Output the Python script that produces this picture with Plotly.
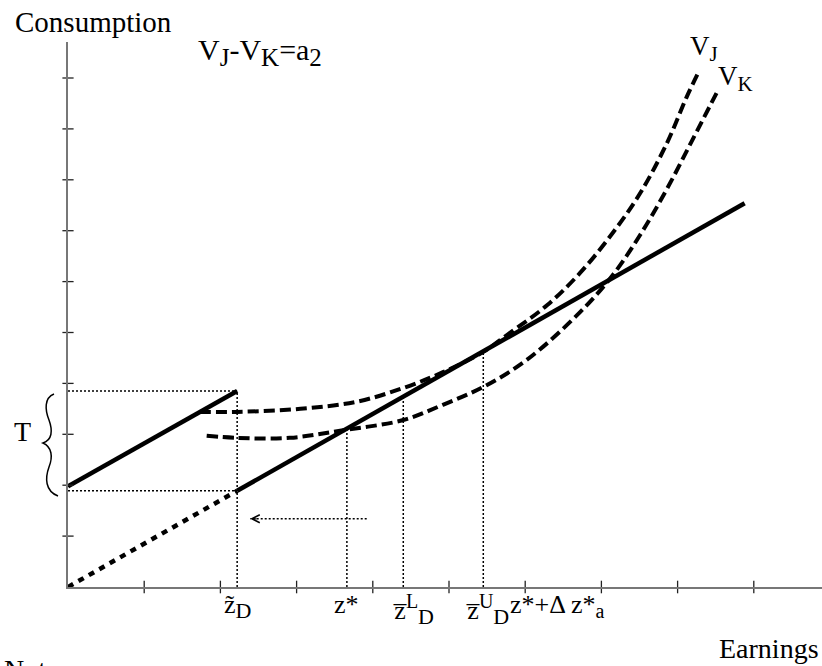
import plotly.graph_objects as go

# ---------------- data (axis units: one unit = one tick step) ----------------
x_ticks = [1, 2, 3, 4, 5, 6, 7, 8, 9]
y_ticks = [1, 2, 3, 4, 5, 6, 7, 8, 9, 10]

z_D = 2.22          # notch point  z~_D
z_star = 3.66       # z*
z_L = 4.40          # z-bar^L_D
z_U = 5.45          # z-bar^U_D
z_delta = 6.43      # z* + Delta z*_a (label position)

# budget line above the notch (before z~_D)
upper_x = [0.0, 2.22]
upper_y = [1.98, 3.85]
# budget line after the notch
lower_x = [2.22, 8.88]
lower_y = [1.89, 7.54]
# extension of lower line to the origin (dotted)
ext_x = [0.0, 2.22]
ext_y = [0.0, 1.89]

# heights where the vertical guides meet the budget line
guide_x = [z_star, z_L, z_U]
guide_top = [3.10, 3.73, 4.62]

# indifference curves
vj_x = [1.73, 2.22, 3.05, 3.79, 4.40, 4.92, 5.45, 5.76, 6.29, 6.72, 7.15, 7.51, 7.86, 8.12, 8.27]
vj_y = [3.44, 3.44, 3.50, 3.64, 3.91, 4.22, 4.62, 4.95, 5.54, 6.17, 6.96, 7.74, 8.72, 9.63, 10.10]
vk_x = [1.82, 2.22, 2.91, 3.61, 4.40, 4.92, 5.45, 6.02, 6.72, 7.15, 7.51, 7.86, 8.20, 8.52]
vk_y = [2.97, 2.93, 2.93, 3.08, 3.28, 3.58, 3.93, 4.46, 5.40, 6.13, 6.92, 7.82, 8.80, 9.73]

# bunching shift arrow
arrow_x = [3.92, 2.39]
arrow_y = 1.34

tick_label_x = [z_D, z_star, z_L, z_U, z_delta]
SUB = '<sub><span style="font-size:{}px">{}</span></sub>'
SUP = '<sup><span style="font-size:{}px">{}</span></sup>'
tick_label_text = ["z\u0303" + SUB.format(22, "D"), "z*",
                   "z\u0305" + SUP.format(20, "L") + SUB.format(22, "D"),
                   "z\u0305" + SUP.format(20, "U") + SUB.format(22, "D"),
                   "z*+\u0394 z*" + SUB.format(20, "a")]

# ---------------- layout geometry ----------------
W, H = 822, 666
L, R, T, B = 68, 0, 42, 79
PW, PH = W - L - R, H - T - B
XU, YU = 76.2, 50.9  # pixels per unit
x_range = [0, PW / XU]
y_range = [0, PH / YU]


def paper_x(px):
    return (px - L) / PW


def paper_y(py):
    return (H - B - py) / PH


FONT = "Liberation Serif, Times New Roman, serif"
BLACK = "#000000"

fig = go.Figure()

# indifference curves
curve_line = dict(color=BLACK, width=4, dash="11px,5px", shape="spline", smoothing=1.0)
fig.add_trace(go.Scatter(x=vj_x, y=vj_y, mode="lines", line=curve_line))
fig.add_trace(go.Scatter(x=vk_x, y=vk_y, mode="lines", line=curve_line))

# dotted guide lines
thin = dict(color=BLACK, width=1.5, dash="2px,2px")
fig.add_trace(go.Scatter(x=[0, z_D], y=[upper_y[1], upper_y[1]], mode="lines", line=thin))
fig.add_trace(go.Scatter(x=[0, z_D], y=[lower_y[0], lower_y[0]], mode="lines", line=thin))
fig.add_trace(go.Scatter(x=[z_D, z_D], y=[0, upper_y[1]], mode="lines", line=thin))
for gx, gt in zip(guide_x, guide_top):
    fig.add_trace(go.Scatter(x=[gx, gx], y=[0, gt], mode="lines", line=thin))

# arrow shaft
fig.add_trace(go.Scatter(x=arrow_x, y=[arrow_y, arrow_y], mode="lines", line=thin))

# budget lines
fig.add_trace(go.Scatter(x=ext_x, y=ext_y, mode="lines", line=dict(color=BLACK, width=4.5, dash="6px,6px")))
fig.add_trace(go.Scatter(x=upper_x, y=upper_y, mode="lines", line=dict(color=BLACK, width=4.5)))
fig.add_trace(go.Scatter(x=lower_x, y=lower_y, mode="lines", line=dict(color=BLACK, width=4.5)))

# tick marks crossing the axes
fig.add_trace(go.Scatter(x=x_ticks, y=[0] * len(x_ticks), mode="markers", cliponaxis=False,
                         marker=dict(symbol="line-ns", size=9, line=dict(color="#222", width=1.3))))
fig.add_trace(go.Scatter(x=[0] * len(y_ticks), y=y_ticks, mode="markers", cliponaxis=False,
                         marker=dict(symbol="line-ew", size=8, line=dict(color="#222", width=1.3))))

ann = []
# arrow head
ann.append(dict(x=arrow_x[1], y=arrow_y, xref="x", yref="y", text="", showarrow=True,
                ax=8, ay=0, arrowhead=5, arrowsize=1.3, arrowwidth=1.2, arrowcolor=BLACK))


def txt(text, px, py, size, xanchor="left", yanchor="middle"):
    ann.append(dict(x=paper_x(px), y=paper_y(py), xref="paper", yref="paper", text=text,
                    showarrow=False, xanchor=xanchor, yanchor=yanchor,
                    font=dict(family=FONT, size=size, color=BLACK)))


txt("Consumption", 13, 22, 29)
txt("V" + SUB.format(25, "J") + "-V" + SUB.format(25, "K") + "=a" + SUB.format(25, "2"), 196, 52, 30)
txt("V" + SUB.format(21, "J"), 688, 48, 27)
txt("V" + SUB.format(21, "K"), 716, 78, 27)
txt("T", 22, 431, 28, xanchor="center")
txt("Earnings", 717, 648, 28)
txt("Notes:", 2, 669, 28)

# x-axis labels
shifts = [0, 0, -12, -19, 0]
anchors = ["center", "center", "left", "left", "center"]
for xv, t, s, a in zip(tick_label_x, tick_label_text, shifts, anchors):
    ann.append(dict(x=xv, y=paper_y(588), xref="x", yref="paper", text=t, showarrow=False,
                    xanchor=a, yanchor="top", xshift=s,
                    font=dict(family=FONT, size=26, color=BLACK)))

# curly brace for T
pts = "M {} {} C {} {} {} {} {} {} C {} {} {} {} {} {} C {} {} {} {} {} {} C {} {} {} {} {} {}"
brace_px = [(54, 394), (44, 398), (45, 410), (49, 420), (53, 431), (52, 440), (43, 443),
            (52, 447), (53, 457), (49, 467), (45, 478), (45, 491), (58, 496)]
coords = []
for px, py in brace_px:
    coords += [paper_x(px), paper_y(py)]
brace_path = pts.format(*coords)

shapes = [dict(type="path", path=brace_path, xref="paper", yref="paper",
               line=dict(color=BLACK, width=1.5))]

fig.update_layout(
    width=W, height=H,
    margin=dict(l=L, r=R, t=T, b=B, pad=0),
    paper_bgcolor="white", plot_bgcolor="white",
    showlegend=False,
    annotations=ann,
    shapes=shapes,
    xaxis=dict(range=x_range, showgrid=False, zeroline=False, showline=True,
               linecolor="#777", linewidth=2, showticklabels=False, ticks="", fixedrange=True),
    yaxis=dict(range=y_range, showgrid=False, zeroline=False, showline=True,
               linecolor="#777", linewidth=2, showticklabels=False, ticks="", fixedrange=True),
)

fig.write_html("out.html")
